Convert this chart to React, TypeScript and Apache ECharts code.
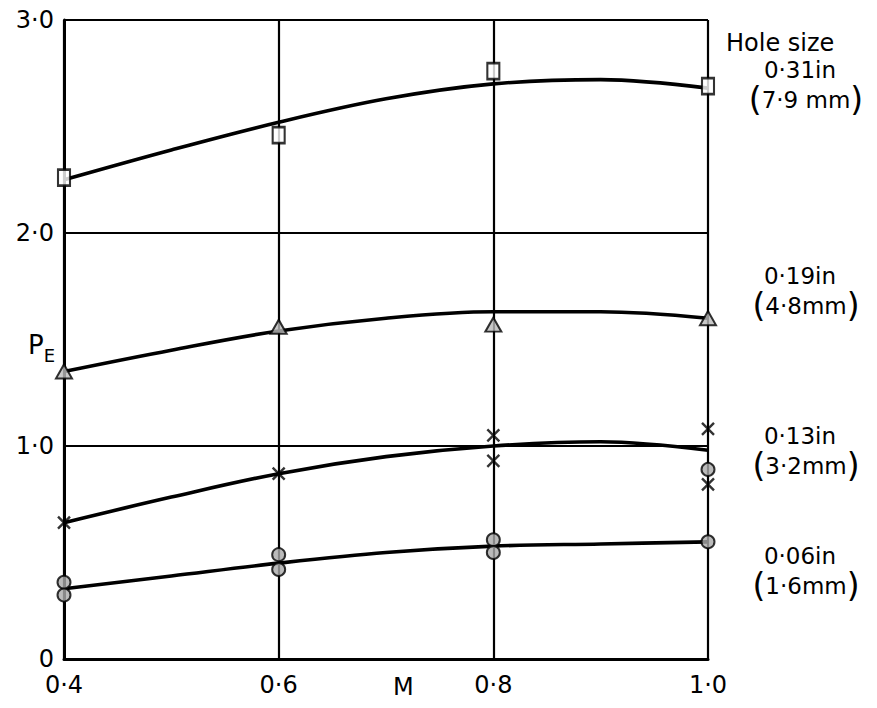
import React, { useEffect, useRef } from "react";
import * as echarts from "echarts";

// ---- data ----
const curveX = [0.4, 0.5, 0.6, 0.7, 0.8, 0.9, 1.0];
const curve031 = [2.25, 2.39, 2.52, 2.63, 2.7, 2.72, 2.68];
const curve019 = [1.35, 1.45, 1.54, 1.6, 1.63, 1.63, 1.6];
const curve013 = [0.64, 0.76, 0.87, 0.95, 1.0, 1.02, 0.98];
const curve006 = [0.33, 0.39, 0.45, 0.5, 0.53, 0.54, 0.55];

const pts031: [number, number][] = [[0.4, 2.26], [0.6, 2.46], [0.8, 2.76], [1.0, 2.69]];
const pts019: [number, number][] = [[0.4, 1.35], [0.6, 1.56], [0.8, 1.57], [1.0, 1.6]];
const pts013: [number, number][] = [[0.4, 0.64], [0.6, 0.87], [0.8, 1.05], [0.8, 0.93], [1.0, 1.08], [1.0, 0.82]];
const pts006: [number, number][] = [[0.4, 0.36], [0.4, 0.3], [0.6, 0.49], [0.6, 0.42], [0.8, 0.56], [0.8, 0.5], [1.0, 0.89], [1.0, 0.55]];

const holeLabels = [
  { inch: "0·31in", mm: "7·9 mm" },
  { inch: "0·19in", mm: "4·8mm" },
  { inch: "0·13in", mm: "3·2mm" },
  { inch: "0·06in", mm: "1·6mm" },
];

const FONT = "DejaVu Sans";

function fmt(v: number) {
  if (v === 0) return "0";
  return v.toFixed(1).replace(".", "·");
}

export default function App() {
  const ref = useRef<HTMLDivElement>(null);
  useEffect(() => {
    if (!ref.current) return;
    const chart = echarts.init(ref.current, null, { renderer: "svg" });
    const line = (data: number[]) => ({
      type: "line",
      data: curveX.map((x, i) => [x, data[i]]),
      smooth: 0.35,
      showSymbol: false,
      lineStyle: { color: "#000", width: 3.6 },
      z: 3,
    });
    const labelY = [58, 264, 424, 544];
    const graphics: any[] = [
      {
        type: "text",
        left: 726,
        top: 31,
        style: { text: "Hole size", font: `24px ${FONT}`, fill: "#000" },
      },
      {
        type: "text",
        left: 393,
        top: 675,
        style: { text: "M", font: `24px ${FONT}`, fill: "#000" },
      },
      {
        type: "text",
        left: 28,
        top: 332,
        style: {
          text: "{p|P}{e|E}",
          rich: {
            p: { font: `26px ${FONT}`, fill: "#000", verticalAlign: "top" },
            e: { font: `18px ${FONT}`, fill: "#000", padding: [14, 0, 0, 0] },
          },
        },
      },
    ];
    holeLabels.forEach((h, i) => {
      graphics.push({
        type: "text",
        x: 800,
        y: labelY[i],
        style: {
          text: h.inch,
          font: `23px ${FONT}`,
          fill: "#000",
          align: "center",
          verticalAlign: "top",
        },
      });
      graphics.push({
        type: "text",
        x: 806,
        y: labelY[i] + 25,
        style: {
          text: `{p|(}{t|${h.mm}}{p|)}`,
          align: "center",
          verticalAlign: "top",
          rich: {
            p: { font: `33px ${FONT}`, fill: "#000" },
            t: { font: `23px ${FONT}`, fill: "#000" },
          },
        },
      });
    });

    chart.setOption({
      animation: false,
      backgroundColor: "#fff",
      grid: { left: 64, right: 169, top: 20, bottom: 49, containLabel: false },
      xAxis: {
        type: "value",
        min: 0.4,
        max: 1.0,
        interval: 0.2,
        axisLine: { show: true, onZero: false, lineStyle: { color: "#000", width: 3 } },
        axisTick: { show: false },
        splitLine: { show: true, lineStyle: { color: "#000", width: 2.2 } },
        axisLabel: {
          formatter: (v: number) => fmt(v),
          color: "#000",
          fontFamily: FONT,
          fontSize: 24,
          margin: 14,
        },
      },
      yAxis: {
        type: "value",
        min: 0,
        max: 3,
        interval: 1,
        axisLine: { show: true, onZero: false, lineStyle: { color: "#000", width: 3 } },
        axisTick: { show: false },
        splitLine: { show: true, lineStyle: { color: "#000", width: 2.2 } },
        axisLabel: {
          formatter: (v: number) => fmt(v),
          color: "#000",
          fontFamily: FONT,
          fontSize: 24,
          margin: 10,
        },
      },
      graphic: graphics,
      series: [
        line(curve031),
        line(curve019),
        line(curve013),
        line(curve006),
        {
          type: "scatter",
          data: pts031,
          symbol: "rect",
          symbolSize: [12, 16],
          itemStyle: { color: "#fff", borderColor: "#000", borderWidth: 2.4 },
          z: 5,
        },
        {
          type: "scatter",
          data: pts019,
          symbol: "triangle",
          symbolSize: [16, 14],
          itemStyle: { color: "#bbb", borderColor: "#000", borderWidth: 2 },
          z: 5,
        },
        {
          type: "scatter",
          data: pts013,
          symbol: "path://M0,0L10,10M10,0L0,10",
          symbolSize: 12,
          itemStyle: { color: "none", borderColor: "#000", borderWidth: 2.4 },
          z: 5,
        },
        {
          type: "scatter",
          data: pts006,
          symbol: "circle",
          symbolSize: 13,
          itemStyle: { color: "#aaa", borderColor: "#000", borderWidth: 2 },
          z: 5,
        },
      ],
    });
    return () => chart.dispose();
  }, []);
  return (
    <div
      ref={ref}
      style={{ position: "fixed", left: 0, top: 0, width: 877, height: 708, background: "#fff" }}
    />
  );
}
